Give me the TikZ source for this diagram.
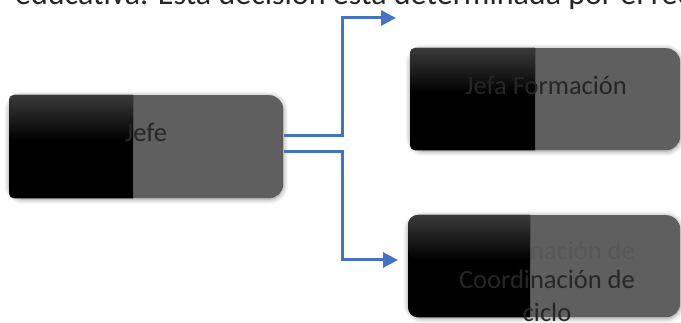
\documentclass[tikz,border=0pt]{standalone}
\usepackage{fontspec}
\setmainfont{Carlito}
\usetikzlibrary{arrows.meta,shadows.blur}
\definecolor{boxgray}{HTML}{5F5F5F}
\definecolor{lineblue}{HTML}{4472C4}
\definecolor{txtdark}{HTML}{262626}
\definecolor{ghost}{HTML}{575757}
\definecolor{darktop}{HTML}{3A3A3A}
\begin{document}
\begin{tikzpicture}[x=1pt,y=-1pt,
  graybox/.style={fill=boxgray, draw=none, rounded corners=14pt, anchor=north west,
    inner sep=0pt, blur shadow={shadow xshift=0pt, shadow yshift=-1pt,
    shadow blur radius=5pt, shadow blur steps=8, shadow opacity=45}},
  darkpart/.style={top color=darktop, bottom color=black},
  boxtext/.style={text=txtdark, font=\fontsize{26.5}{33}\selectfont, align=center, inner sep=0pt},
  ghosttext/.style={text=ghost, font=\fontsize{26.5}{33}\selectfont, align=center, inner sep=0pt},
  conn/.style={draw=lineblue, line width=3pt, -{Triangle[length=15pt,width=15pt]}}]
\useasboundingbox (0,0) rectangle (681,323);

% top text line (cut by the page edge)
\node[anchor=base west, inner sep=0pt, text=txtdark, font=\fontsize{32}{38}\selectfont] (toptext) at (15,5)
  {educativa. Esta decisión está determinada por el rec};

% boxes
\node[graybox, minimum width=274pt, minimum height=103pt] (jefe) at (9,95) {};
\node[graybox, minimum width=270pt, minimum height=102pt] (formacion) at (410,48) {};
\node[graybox, minimum width=272pt, minimum height=102pt] (coord) at (408,215) {};

% ghost text in the lower box
\node[ghosttext] (coordghost) at (547,250) {Coordinación de};

% dark left parts
\begin{scope}
  \clip ([xshift=-5pt,yshift=5pt]jefe.north west) rectangle ([xshift=124pt,yshift=-5pt]jefe.south west);
  \fill[black, rounded corners=5pt] (jefe.north west) rectangle ([xshift=150pt]jefe.south west);
  \clip ([xshift=-5pt,yshift=5pt]jefe.north west) rectangle ([xshift=150pt,yshift=-45pt]jefe.north west);
  \shade[darkpart, rounded corners=5pt] (jefe.north west) rectangle ([xshift=150pt,yshift=-45pt]jefe.north west);
\end{scope}
\begin{scope}
  \clip ([xshift=-5pt,yshift=5pt]formacion.north west) rectangle ([xshift=125pt,yshift=-5pt]formacion.south west);
  \fill[black, rounded corners=5pt] (formacion.north west) rectangle ([xshift=150pt]formacion.south west);
  \clip ([xshift=-5pt,yshift=5pt]formacion.north west) rectangle ([xshift=150pt,yshift=-45pt]formacion.north west);
  \shade[darkpart, rounded corners=5pt] (formacion.north west) rectangle ([xshift=150pt,yshift=-45pt]formacion.north west);
\end{scope}
\begin{scope}
  \clip ([xshift=-5pt,yshift=5pt]coord.north west) rectangle ([xshift=122pt,yshift=-5pt]coord.south west);
  \fill[black, rounded corners=10pt] (coord.north west) rectangle ([xshift=150pt]coord.south west);
  \clip ([xshift=-5pt,yshift=5pt]coord.north west) rectangle ([xshift=150pt,yshift=-45pt]coord.north west);
  \shade[darkpart, rounded corners=10pt] (coord.north west) rectangle ([xshift=150pt,yshift=-45pt]coord.north west);
\end{scope}

% texts
\node[boxtext] (jefet) at (146,133) {Jefe};
\node[boxtext] (formaciont) at (546,85) {Jefa Formación};
\node[boxtext] (coordt) at (547,296) {Coordinación de\\ciclo};

% connectors
\coordinate (tipA) at (396,18);
\coordinate (tipB) at (398,260);
\coordinate (bend) at (342,0);
\draw[conn] ([xshift=1pt,yshift=11.5pt]jefe.east) -| (bend |- tipA) -- (tipA);
\draw[conn] ([xshift=1pt,yshift=-4.5pt]jefe.east) -| (bend |- tipB) -- (tipB);
\end{tikzpicture}
\end{document}
